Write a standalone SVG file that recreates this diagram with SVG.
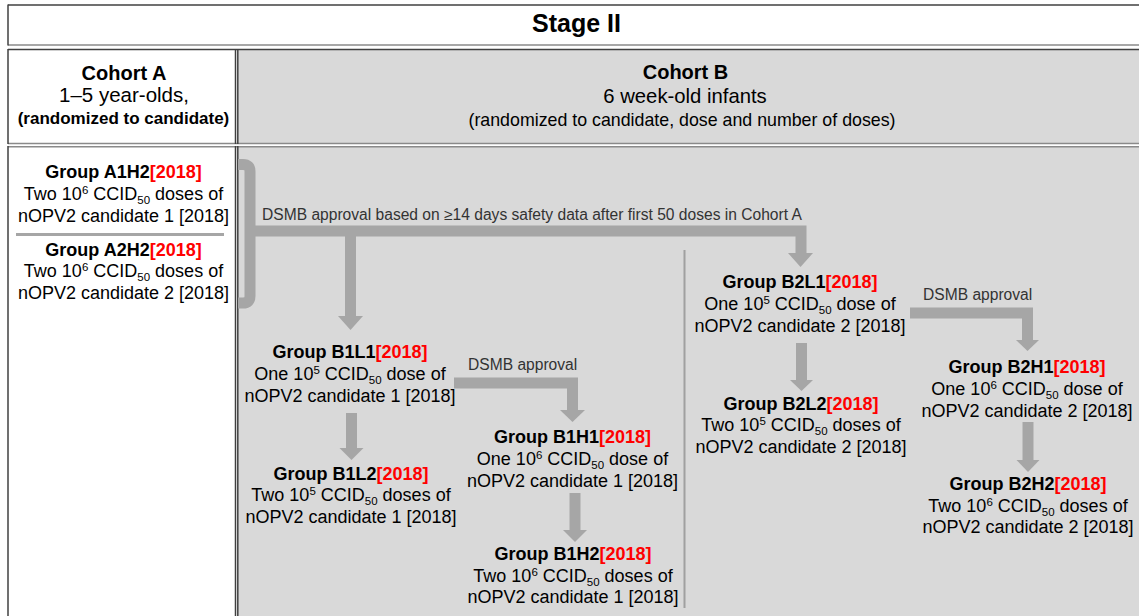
<svg xmlns="http://www.w3.org/2000/svg" width="1139" height="616" viewBox="0 0 1139 616">
<style>
text{font-family:"Liberation Sans",Arial,sans-serif;fill:#000;}
.g text{font-size:18px;text-anchor:middle;}
.b{font-weight:bold;}
.r{fill:#ff0000;font-weight:bold;}
.s{font-size:11.5px;}
.dsmb{font-size:15.6px;fill:#333;}
.shaft{stroke:#a6a6a6;stroke-width:11;fill:none;stroke-linejoin:miter;}
.head{fill:#a6a6a6;}
.border{stroke:#404040;stroke-width:1.5;fill:none;}
.lborder{stroke:#8a8a8a;stroke-width:1.5;fill:none;}
</style>
<rect width="1139" height="616" fill="#fff"/>
<!-- table -->
<g id="table">
<rect x="238" y="50" width="901" height="93" fill="#d9d9d9"/>
<rect x="238" y="147" width="901" height="469" fill="#d9d9d9"/>
<line class="border" x1="8" y1="5" x2="1139" y2="5"/>
<line class="lborder" x1="8" y1="45" x2="1139" y2="45"/>
<line class="border" x1="8" y1="4.5" x2="8" y2="45.5"/>
<line class="border" x1="8" y1="49.5" x2="1139" y2="49.5"/>
<line class="lborder" x1="8" y1="143.5" x2="1139" y2="143.5"/>
<line class="lborder" x1="8" y1="146.8" x2="1139" y2="146.8"/>
<line class="border" x1="8" y1="49" x2="8" y2="144"/>
<line class="border" x1="8" y1="146" x2="8" y2="616"/>
<line class="border" x1="235.5" y1="49" x2="235.5" y2="144"/>
<line class="border" x1="237.8" y1="49" x2="237.8" y2="144"/>
<line class="border" x1="235.5" y1="146" x2="235.5" y2="616"/>
<line class="border" x1="237.8" y1="146" x2="237.8" y2="616"/>
<line x1="16" y1="234.5" x2="224" y2="234.5" stroke="#a6a6a6" stroke-width="3"/>
<line x1="684.5" y1="250" x2="684.5" y2="608" stroke="#a0a0a0" stroke-width="2"/>
</g>
<g id="title">
<text x="576.5" y="32" class="b" font-size="25" text-anchor="middle">Stage II</text>
</g>
<g id="cohortA">
<text x="124" y="80" class="b" font-size="20" text-anchor="middle">Cohort A</text>
<text x="124" y="102" font-size="20.5" text-anchor="middle">1–5 year-olds,</text>
<text x="123.5" y="124" class="b" font-size="17" text-anchor="middle">(randomized to candidate)</text>
</g>
<g id="cohortB">
<text x="685.5" y="79" class="b" font-size="20" text-anchor="middle">Cohort B</text>
<text x="685" y="103" font-size="20.3" text-anchor="middle">6 week-old infants</text>
<text x="682" y="126" font-size="17.8" text-anchor="middle">(randomized to candidate, dose and number of doses)</text>
</g>
<!-- connectors -->
<g id="connectors">
<path class="shaft" stroke-width="7" d="M238,164.5 H243 Q250,164.5 250,171.5 V296 Q250,303 243,303 H238"/>
<polyline class="shaft" points="250,231 801,231 801,254"/>
<polygon class="head" points="788,253 813,253 800.5,267"/>
<line class="shaft" x1="350.5" y1="236" x2="350.5" y2="317"/>
<polygon class="head" points="338,316 363,316 350.5,330"/>
<line class="shaft" x1="351.5" y1="413" x2="351.5" y2="449"/>
<polygon class="head" points="339.5,448 363.5,448 351.5,460"/>
<polyline class="shaft" points="454,383 572.5,383 572.5,411"/>
<polygon class="head" points="560,410 585,410 572.5,422"/>
<line class="shaft" x1="575" y1="493" x2="575" y2="531"/>
<polygon class="head" points="563,530 587,530 575,542"/>
<line class="shaft" x1="801.5" y1="343" x2="801.5" y2="381"/>
<polygon class="head" points="790,380 813,380 801.5,391"/>
<polyline class="shaft" points="910,313 1027.5,313 1027.5,341"/>
<polygon class="head" points="1016,340 1039,340 1027.5,351"/>
<line class="shaft" x1="1028" y1="422" x2="1028" y2="461"/>
<polygon class="head" points="1016.5,460 1039.5,460 1028,472"/>
<text class="dsmb" x="262" y="219.5">DSMB approval based on ≥14 days safety data after first 50 doses in Cohort A</text>
<text class="dsmb" x="468" y="370">DSMB approval</text>
<text class="dsmb" x="923" y="300">DSMB approval</text>
</g>
<!-- nodes -->
<g id="A1H2" class="g">
<text x="123.5" y="178"><tspan class="b">Group A1H2</tspan><tspan class="r">[2018]</tspan></text>
<text x="123.5" y="200">Two 10<tspan class="s" dy="-6">6</tspan><tspan dy="6"> CCID</tspan><tspan class="s" dy="4">50</tspan><tspan dy="-4"> doses of</tspan></text>
<text x="123.5" y="222">nOPV2 candidate 1 [2018]</text>
</g>
<g id="A2H2" class="g">
<text x="123.5" y="256"><tspan class="b">Group A2H2</tspan><tspan class="r">[2018]</tspan></text>
<text x="123.5" y="277">Two 10<tspan class="s" dy="-6">6</tspan><tspan dy="6"> CCID</tspan><tspan class="s" dy="4">50</tspan><tspan dy="-4"> doses of</tspan></text>
<text x="123.5" y="299">nOPV2 candidate 2 [2018]</text>
</g>
<g id="B1L1" class="g">
<text x="350" y="358"><tspan class="b">Group B1L1</tspan><tspan class="r">[2018]</tspan></text>
<text x="350" y="380">One 10<tspan class="s" dy="-6">5</tspan><tspan dy="6"> CCID</tspan><tspan class="s" dy="4">50</tspan><tspan dy="-4"> dose of</tspan></text>
<text x="350" y="402">nOPV2 candidate 1 [2018]</text>
</g>
<g id="B1L2" class="g">
<text x="351" y="480"><tspan class="b">Group B1L2</tspan><tspan class="r">[2018]</tspan></text>
<text x="351" y="501">Two 10<tspan class="s" dy="-6">5</tspan><tspan dy="6"> CCID</tspan><tspan class="s" dy="4">50</tspan><tspan dy="-4"> doses of</tspan></text>
<text x="351" y="523">nOPV2 candidate 1 [2018]</text>
</g>
<g id="B1H1" class="g">
<text x="572.5" y="443"><tspan class="b">Group B1H1</tspan><tspan class="r">[2018]</tspan></text>
<text x="572.5" y="465">One 10<tspan class="s" dy="-6">6</tspan><tspan dy="6"> CCID</tspan><tspan class="s" dy="4">50</tspan><tspan dy="-4"> dose of</tspan></text>
<text x="572.5" y="487">nOPV2 candidate 1 [2018]</text>
</g>
<g id="B1H2" class="g">
<text x="573" y="560"><tspan class="b">Group B1H2</tspan><tspan class="r">[2018]</tspan></text>
<text x="573" y="582">Two 10<tspan class="s" dy="-6">6</tspan><tspan dy="6"> CCID</tspan><tspan class="s" dy="4">50</tspan><tspan dy="-4"> doses of</tspan></text>
<text x="573" y="603">nOPV2 candidate 1 [2018]</text>
</g>
<g id="B2L1" class="g">
<text x="800" y="288"><tspan class="b">Group B2L1</tspan><tspan class="r">[2018]</tspan></text>
<text x="800" y="310">One 10<tspan class="s" dy="-6">5</tspan><tspan dy="6"> CCID</tspan><tspan class="s" dy="4">50</tspan><tspan dy="-4"> dose of</tspan></text>
<text x="800" y="332">nOPV2 candidate 2 [2018]</text>
</g>
<g id="B2L2" class="g">
<text x="801" y="410"><tspan class="b">Group B2L2</tspan><tspan class="r">[2018]</tspan></text>
<text x="801" y="431">Two 10<tspan class="s" dy="-6">5</tspan><tspan dy="6"> CCID</tspan><tspan class="s" dy="4">50</tspan><tspan dy="-4"> doses of</tspan></text>
<text x="801" y="453">nOPV2 candidate 2 [2018]</text>
</g>
<g id="B2H1" class="g">
<text x="1027" y="373"><tspan class="b">Group B2H1</tspan><tspan class="r">[2018]</tspan></text>
<text x="1027" y="395">One 10<tspan class="s" dy="-6">6</tspan><tspan dy="6"> CCID</tspan><tspan class="s" dy="4">50</tspan><tspan dy="-4"> dose of</tspan></text>
<text x="1027" y="417">nOPV2 candidate 2 [2018]</text>
</g>
<g id="B2H2" class="g">
<text x="1028" y="490"><tspan class="b">Group B2H2</tspan><tspan class="r">[2018]</tspan></text>
<text x="1028" y="512">Two 10<tspan class="s" dy="-6">6</tspan><tspan dy="6"> CCID</tspan><tspan class="s" dy="4">50</tspan><tspan dy="-4"> doses of</tspan></text>
<text x="1028" y="533">nOPV2 candidate 2 [2018]</text>
</g>
</svg>
